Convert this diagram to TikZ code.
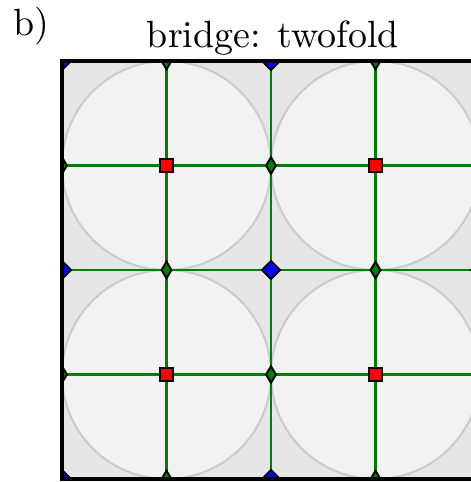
\documentclass[tikz,border=0pt]{standalone}
\usetikzlibrary{shapes.geometric}
\definecolor{cellgray}{HTML}{E6E6E6}
\definecolor{diskgray}{HTML}{F2F2F2}
\definecolor{rimgray}{HTML}{CCCCCC}
\definecolor{bondgreen}{HTML}{008000}
\begin{document}
\begin{tikzpicture}[x=0.2636pt,y=-0.2636pt,
  bond/.style={bondgreen,line width=0.55pt},
  site/.style={draw=black,line width=0.5pt,inner sep=0pt,outer sep=0pt},
  hollow/.style={site,fill=red,rectangle,minimum size=3.2pt},
  bridge/.style={site,fill=bondgreen,diamond,minimum width=2.6pt,minimum height=4.4pt},
  corner/.style={site,fill=blue,diamond,minimum size=4.8pt}]
\useasboundingbox (0,0) rectangle (471,482);
\node[anchor=base west,inner sep=0pt] (panel) at (13,35) {b)};
\node[anchor=base,inner sep=0pt] (title) at (273,47) {bridge: twofold};
% lattice points: corners, edge midpoints, cell centres
\foreach \m in {0,...,4} \foreach \n in {0,...,4}
  \coordinate (p-\m-\n) at ({62+104.5*\m},{61+104.5*\n});
\begin{scope}
\clip (62,61) rectangle (480,479);
\fill[cellgray] (p-0-0) rectangle (p-4-4);
\foreach \m in {1,3} \foreach \n in {1,3}
  \filldraw[fill=diskgray,draw=rimgray,line width=0.55pt] (p-\m-\n) circle[radius=104.5];
\foreach \k in {1,2,3} {
  \draw[bond] (p-\k-0) -- (p-\k-4);
  \draw[bond] (p-0-\k) -- (p-4-\k);
}
\foreach \m in {0,...,4} \foreach \n in {0,...,4} {
  \pgfmathtruncatemacro\kind{mod(\m,2)+mod(\n,2)}
  \ifcase\kind \def\sty{corner}\or \def\sty{bridge}\or \def\sty{hollow}\fi
  \node[\sty] (s-\m-\n) at (p-\m-\n) {};
}
\end{scope}
\draw[line width=0.8pt] (p-0-0) rectangle (p-4-4);
\end{tikzpicture}
\end{document}
